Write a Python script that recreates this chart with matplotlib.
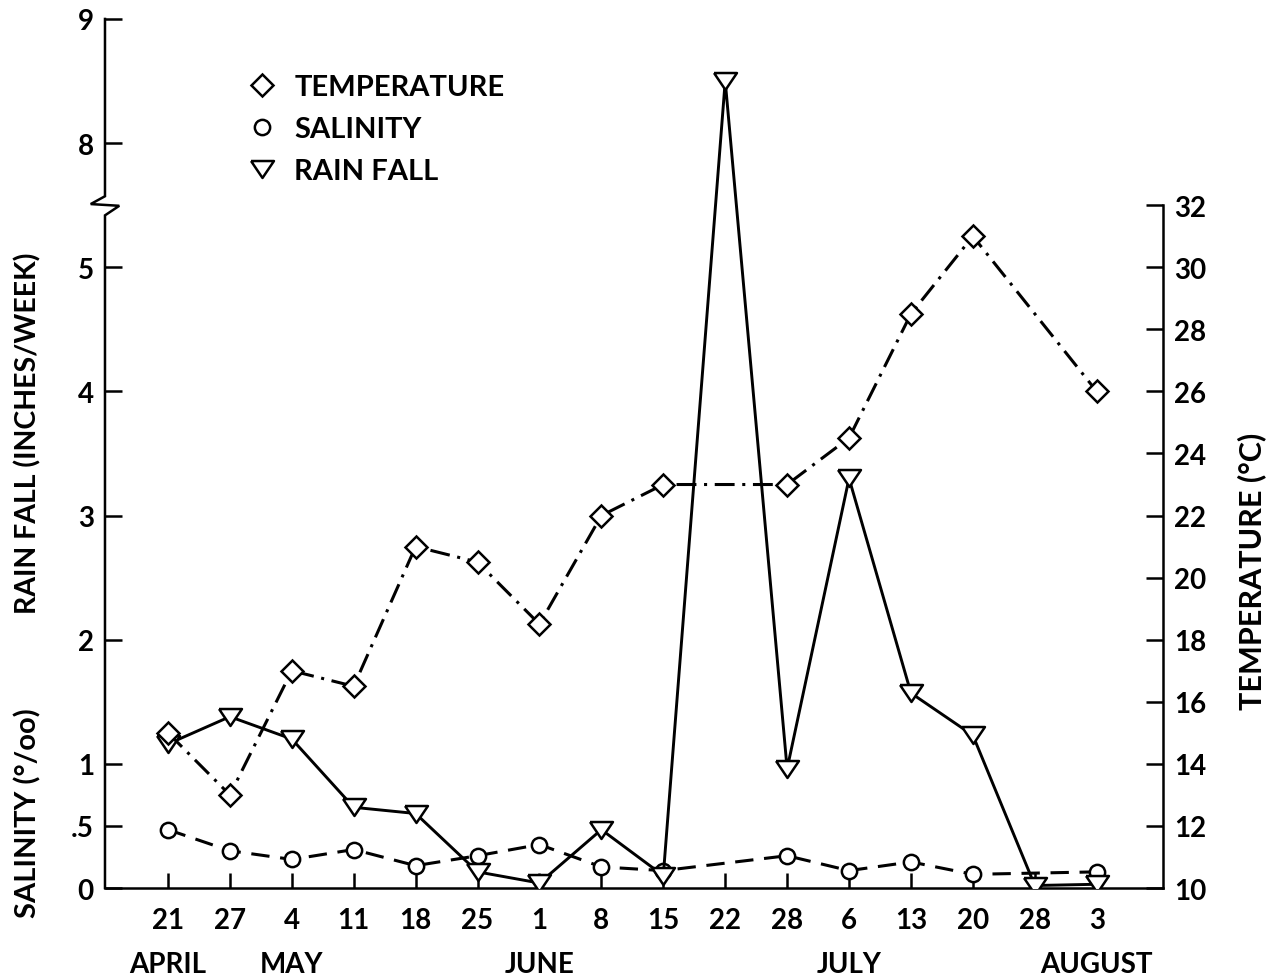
import matplotlib.pyplot as plt
import numpy as np
from matplotlib.lines import Line2D

plt.rcParams['font.family'] = ['Lato', 'DejaVu Sans']
plt.rcParams['font.weight'] = 'bold'

dates = ['21', '27', '4', '11', '18', '25', '1', '8', '15', '22', '28', '6', '13', '20', '28', '3']
months = ['APRIL', 'MAY', 'JUNE', 'JULY', 'AUGUST']
month_pos = [0, 2, 6, 11, 15]
month_start = [2, 6, 11, 15]

rain = [1.16, 1.38, 1.20, 0.65, 0.60, 0.13, 0.04, 0.47, 0.10, 8.5, 0.96, 3.30, 1.57, 1.23, 0.02, 0.03]
salinity = [0.47, 0.30, 0.23, 0.31, 0.18, 0.26, 0.35, 0.17, 0.14, None, 0.26, 0.14, 0.21, 0.11, None, 0.13]
temperature = [15, 13, 17, 16.5, 21, 20.5, 18.5, 22, 23, None, 23, 24.5, 28.5, 31, None, 26]

x = np.arange(len(dates))


# broken axis: 5.5 .. 7.5 is cut out
def fwd(v):
    v = np.asarray(v, dtype=float)
    return np.where(v > 7.5, v - 2.0, np.minimum(v, 5.5))


def inv(u):
    u = np.asarray(u, dtype=float)
    return np.where(u > 5.5, u + 2.0, u)


def valid(vals):
    xs = [i for i, v in enumerate(vals) if v is not None]
    ys = [v for v in vals if v is not None]
    return xs, ys


fig = plt.figure(figsize=(12.71, 9.78), dpi=100)
ax = fig.add_axes([0.0826, 0.091, 0.8324, 0.8886])
ax.set_yscale('function', functions=(fwd, inv))
ax.set_ylim(0, 9)
ax.set_xlim(-1.017, 16.07)

tri = [(-1, 0.74), (1, 0.74), (0, -0.74), (-1, 0.74)]
mk = dict(mfc='white', mec='black', mew=1.8)

sx, sy = valid(salinity)
ax.plot(sx, sy, color='black', lw=2.2, ls=(0, (6, 3.5)), marker='o', ms=11, zorder=3, **mk)
ax.plot(x, rain, color='black', lw=2.1, marker=tri, ms=16.5, zorder=4, **mk)

ax2 = ax.twinx()
ax2.set_ylim(10, 38)
tx, ty = valid(temperature)
ax2.plot(tx, ty, color='black', lw=2.2, ls=(0, (6.5, 2.5, 1, 2.5)), marker='D', ms=11.5,
         zorder=5, **mk)

# spines
for s in ['top', 'right', 'left']:
    ax.spines[s].set_visible(False)
for s in ['top', 'left', 'bottom']:
    ax2.spines[s].set_visible(False)
ax.spines['bottom'].set_linewidth(1.8)
ax2.spines['right'].set_linewidth(1.8)
ax2.spines['right'].set_bounds(10, 32)

# left spine with break mark
ax.plot([0, 0, -0.0135, 0.0135, 0, 0], [1, 0.796, 0.787, 0.785, 0.774, 0],
        transform=ax.transAxes, color='black', lw=1.8, clip_on=False,
        solid_joinstyle='miter')

ax.set_xticks(x)
ax.set_xticklabels(dates)
ax.set_xticks(month_start, minor=True)
ax.tick_params(axis='x', which='major', direction='in', length=11, width=1.8,
               pad=14, labelsize=20)
ax.tick_params(axis='x', which='minor', direction='out', length=11, width=1.8)

ax.set_yticks([0, 0.5, 1, 2, 3, 4, 5, 8, 9])
ax.set_yticklabels(['0', '.5', '1', '2', '3', '4', '5', '8', '9'])
ax.yaxis.set_minor_locator(plt.NullLocator())
ax.tick_params(axis='y', which='major', direction='in', length=12, width=1.8,
               pad=8, labelsize=20)

ax2.set_yticks(np.arange(10, 33, 2))
ax2.tick_params(axis='y', direction='in', length=12, width=1.8, pad=8, labelsize=20)

for m, p in zip(months, month_pos):
    ax.text(p, -0.087, m, transform=ax.get_xaxis_transform(), ha='center',
            va='center', fontsize=20)

fig.text(28 / 1271, 1 - 433 / 978, 'RAIN FALL (INCHES/WEEK)', rotation=90,
         ha='center', va='center', fontsize=20.5)
fig.text(28 / 1271, 1 - 813 / 978, 'SALINITY (°/oo)', rotation=90,
         ha='center', va='center', fontsize=21)
fig.text(1252 / 1271, 1 - 571 / 978, 'TEMPERATURE (°C)', rotation=90,
         ha='center', va='center', fontsize=22)

handles = [
    Line2D([], [], ls='none', marker='D', ms=11.5, **mk),
    Line2D([], [], ls='none', marker='o', ms=11, **mk),
    Line2D([], [], ls='none', marker=tri, ms=16.5, **mk),
]
ax2.legend(handles, ['TEMPERATURE', 'SALINITY', 'RAIN FALL'], loc='upper left',
           bbox_to_anchor=(0.121, 0.953), frameon=False, fontsize=21,
           handlelength=1.0, handletextpad=0.6, labelspacing=0.55, borderpad=0)

fig.savefig('out.png', dpi=100)
